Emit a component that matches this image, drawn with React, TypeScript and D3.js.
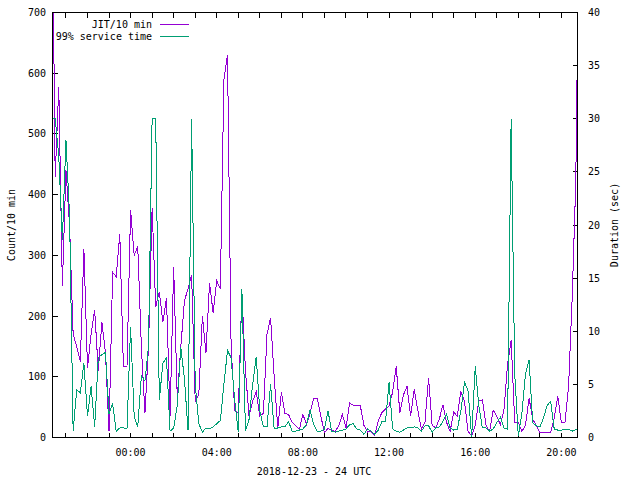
import * as d3 from "d3";

// 10-minute samples, 2018-12-23 20:20 UTC onwards
const SAMPLE_START = Date.UTC(2018, 11, 23, 20, 20);
const SAMPLE_MINUTES = 10;

// JIT count per 10 min (left axis)
const jitCounts = [
  1000, 429, 577, 250, 440, 350, 170, 150, 125, 310,
  115, 170, 210, 110, 190, 140, 10, 272, 265, 335,
  117, 117, 375, 300, 315, 150, 40, 150, 378, 215,
  240, 190, 230, 35, 281, 65, 150, 225, 245, 268,
  60, 70, 200, 140, 255, 205, 258, 245, 590, 630,
  150, 45, 40, 240, 110, 35, 60, 75, 35, 40,
  170, 197, 100, 15, 75, 40, 38, 25, 20, 13,
  38, 22, 40, 65, 65, 35, 8, 15, 12, 10,
  20, 38, 16, 57, 53, 53, 52, 20, 9, 10,
  3, 28, 41, 47, 52, 75, 117, 40, 70, 84,
  35, 79, 45, 14, 25, 98, 20, 16, 30, 54,
  25, 10, 42, 35, 76, 60, 10, 3, 20, 60,
  62, 20, 10, 45, 35, 21, 45, 120, 160, 25,
  25, 10, 20, 65, 30, 20, 8, 9, 9, 8,
  32, 68, 24, 25, 84, 230, 420, 900,
];

// 99% service time in seconds (right axis)
const serviceTimes = [
  30, 30, 26.5, 18.6, 28, 21, 0.6, 4.5, 4.2, 7,
  2, 4.8, 1, 7.5, 7.8, 8, 2.2, 3.2, 0.6, 0.9,
  0.9, 0.8, 10.4, 2, 1, 5.8, 5.3, 8.6, 30, 30,
  3.5, 7, 7.5, 0.6, 0.9, 3, 8.5, 5.5, 0.7, 30,
  5, 1.3, 0.5, 0.9, 0.8, 1, 1.3, 1.6, 5, 8.2,
  7.5, 3.5, 0.5, 14, 0.6, 1.7, 5, 7.6, 2.5, 1,
  1, 5, 0.8, 0.9, 1, 1, 1.5, 0.6, 0.6, 0.7,
  0.8, 1.2, 2.6, 1.2, 0.6, 0.6, 0.8, 2.5, 0.6, 0.5,
  0.6, 0.7, 0.8, 1.2, 1.3, 0.8, 0.7, 0.3, 0.8, 0.6,
  0.3, 0.7, 1.5, 1.5, 5.2, 0.8, 0.6, 0.5, 0.7, 0.9,
  0.9, 1, 0.9, 0.6, 1.1, 1.1, 0.5, 0.9, 1, 1.5,
  2.2, 0.9, 0.7, 0.75, 2.5, 5.2, 4.4, 0, 6.7, 3,
  0.9, 0.9, 0.6, 0.8, 1.4, 1.9, 0.9, 0.8, 30, 6,
  0.1, 2.3, 6, 7.3, 1.4, 1.1, 1, 1.8, 3, 3.4,
  0.8, 0.7, 0.7, 0.8, 0.8, 0.6, 0.75, 0.75,
];

const leftTicks = [0, 100, 200, 300, 400, 500, 600, 700];
const rightTicks = [0, 5, 10, 15, 20, 25, 30, 35, 40];
const xDomain = [new Date(Date.UTC(2018, 11, 23, 20, 22, 31)), new Date(Date.UTC(2018, 11, 24, 20, 44, 52))];

const seriesNames = ["JIT/10 min", "99% service time"];
const seriesColors = ["#9400d3", "#009e73"];

const width = 640;
const height = 480;
const plot = { left: 52.5, right: 577.5, top: 12.5, bottom: 437.5 };
const tickLen = 5;
const font = "'DejaVu Sans Mono', monospace";

export default function App() {
  const times = jitCounts.map((_, i) => new Date(SAMPLE_START + i * SAMPLE_MINUTES * 60000));

  const x = d3.scaleUtc().domain(xDomain).range([plot.left, plot.right]);
  const yLeft = d3.scaleLinear().domain([0, 700]).range([plot.bottom, plot.top]);
  const yRight = d3.scaleLinear().domain([0, 40]).range([plot.bottom, plot.top]);

  const jitLine = d3
    .line<number>()
    .x((_, i) => x(times[i]))
    .y((d) => yLeft(d));
  const serviceLine = d3
    .line<number>()
    .x((_, i) => x(times[i]))
    .y((d) => yRight(d));

  const hourTicks = x.ticks(d3.utcHour.every(1)!);
  const fmt = d3.utcFormat("%H:%M");

  return (
    <svg
      width={width}
      height={height}
      style={{ position: "absolute", left: 0, top: 0, background: "#fff" }}
      fontFamily={font}
      fontSize={10}
    >
      <defs>
        <clipPath id="plot-clip">
          <rect x={plot.left} y={plot.top} width={plot.right - plot.left} height={plot.bottom - plot.top} />
        </clipPath>
      </defs>
      <rect width={width} height={height} fill="#fff" />

      {/* left axis */}
      {leftTicks.map((t) => (
        <g key={`l${t}`}>
          <line x1={plot.left} x2={plot.left + tickLen} y1={yLeft(t)} y2={yLeft(t)} stroke="#000" shapeRendering="crispEdges" />
          <text x={46} y={yLeft(t)} textAnchor="end" dominantBaseline="central">
            {t}
          </text>
        </g>
      ))}

      {/* right axis */}
      {rightTicks.map((t) => (
        <g key={`r${t}`}>
          <line x1={plot.right} x2={plot.right - tickLen} y1={yRight(t)} y2={yRight(t)} stroke="#000" shapeRendering="crispEdges" />
          <text x={588} y={yRight(t)} textAnchor="start" dominantBaseline="central">
            {t}
          </text>
        </g>
      ))}

      {/* time axis, hourly ticks on bottom and top */}
      {hourTicks.map((t) => (
        <g key={t.getTime()}>
          <line x1={x(t)} x2={x(t)} y1={plot.bottom} y2={plot.bottom - tickLen} stroke="#000" shapeRendering="crispEdges" />
          <line x1={x(t)} x2={x(t)} y1={plot.top} y2={plot.top + tickLen} stroke="#000" shapeRendering="crispEdges" />
          {t.getUTCHours() % 4 === 0 && (
            <text x={x(t)} y={456} textAnchor="middle">
              {fmt(t)}
            </text>
          )}
        </g>
      ))}

      <g clipPath="url(#plot-clip)" fill="none" strokeWidth={1} shapeRendering="crispEdges">
        <path d={jitLine(jitCounts) ?? ""} stroke={seriesColors[0]} />
        <path d={serviceLine(serviceTimes) ?? ""} stroke={seriesColors[1]} />
      </g>

      <rect
        x={plot.left}
        y={plot.top}
        width={plot.right - plot.left}
        height={plot.bottom - plot.top}
        fill="none"
        stroke="#000"
        shapeRendering="crispEdges"
      />

      {/* legend */}
      {seriesNames.map((name, i) => (
        <g key={name}>
          <text x={152} y={24 + i * 12} textAnchor="end" dominantBaseline="central">
            {name}
          </text>
          <line x1={160} x2={189} y1={24 + i * 12} y2={24 + i * 12} stroke={seriesColors[i]} shapeRendering="crispEdges" />
        </g>
      ))}

      <text x={314} y={475} textAnchor="middle">
        2018-12-23 - 24 UTC
      </text>
      <text transform="translate(15,225) rotate(-90)" textAnchor="middle">
        Count/10 min
      </text>
      <text transform="translate(618,225) rotate(-90)" textAnchor="middle">
        Duration (sec)
      </text>
    </svg>
  );
}
